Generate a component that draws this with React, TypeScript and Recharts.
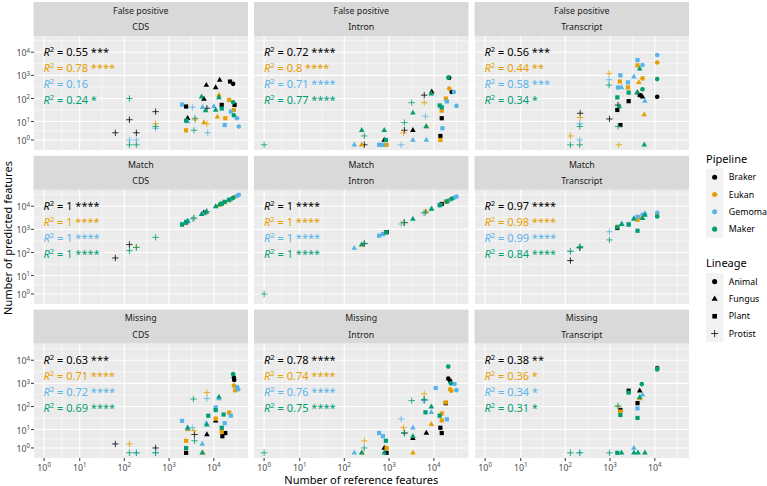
import React from 'react';
import { ScatterChart, Scatter, XAxis, YAxis, CartesianGrid } from 'recharts';

// pipelines (colour) and lineages (shape)
const PIPELINES = ['Braker', 'Eukan', 'Gemoma', 'Maker'];
const PIPELINE_CODES = ['B', 'E', 'G', 'M'];
const PIPELINE_COLORS = ['#000000', '#E69F00', '#56B4E9', '#009E73'];
const LINEAGES = ['Animal', 'Fungus', 'Plant', 'Protist'];
const LINEAGE_CODES = ['a', 'f', 'p', 't'];

const STATUSES = ['False positive', 'Match', 'Missing'];
const FEATURES = ['CDS', 'Intron', 'Transcript'];
const TICK_POWERS = [0, 1, 2, 3, 4];

// R² labels per panel, in pipeline order
const R2_FP_CDS = ['0.55 ***', '0.78 ****', '0.16', '0.24 *'];
const R2_FP_INTRON = ['0.72 ****', '0.8 ****', '0.71 ****', '0.77 ****'];
const R2_FP_TRANSCRIPT = ['0.56 ***', '0.44 **', '0.58 ***', '0.34 *'];
const R2_MATCH_CDS = ['1 ****', '1 ****', '1 ****', '1 ****'];
const R2_MATCH_INTRON = ['1 ****', '1 ****', '1 ****', '1 ****'];
const R2_MATCH_TRANSCRIPT = ['0.97 ****', '0.98 ****', '0.99 ****', '0.84 ****'];
const R2_MISS_CDS = ['0.63 ***', '0.71 ****', '0.72 ****', '0.69 ****'];
const R2_MISS_INTRON = ['0.78 ****', '0.74 ****', '0.76 ****', '0.75 ****'];
const R2_MISS_TRANSCRIPT = ['0.38 **', '0.36 *', '0.34 *', '0.31 *'];

// [pipeline+lineage code, reference features, predicted features]
type Pt = [string, number, number];

const FP_CDS: Pt[] = [
  ['Bt', 63, 3], ['Bt', 130, 12], ['Bt', 186, 3], ['Bt', 500, 27],
  ['Et', 500, 8], ['Gt', 130, 1], ['Gt', 186, 1], ['Gt', 500, 5],
  ['Mt', 130, 100], ['Mt', 130, 0], ['Mt', 186, 0], ['Mt', 500, 6],
  ['Gp', 1950, 55], ['Bp', 2400, 45], ['Gt', 3300, 42], ['Mf', 5300, 120],
  ['Bf', 6000, 95], ['Bf', 6800, 380], ['Gf', 5600, 42], ['Bt', 7000, 38],
  ['Bf', 11000, 300], ['Bf', 13500, 630], ['Ef', 13000, 140], ['Mf', 13000, 110],
  ['Bp', 23000, 540], ['Ba', 27000, 430], ['Ep', 22000, 87], ['Ma', 27000, 69],
  ['Bp', 29000, 53], ['Mf', 11000, 32], ['Bp', 15000, 53], ['Mp', 15000, 37],
  ['Ep', 28000, 32], ['Gp', 24000, 27], ['Ga', 33000, 14], ['Ga', 36000, 6],
  ['Ma', 28000, 19], ['Ep', 18000, 14], ['Gp', 17500, 7], ['Ef', 12000, 16],
  ['Bf', 2600, 14], ['Mp', 2400, 11], ['Gf', 2600, 10], ['Ep', 2400, 4],
  ['Mt', 3600, 4], ['Mt', 3800, 14], ['Et', 3800, 12], ['Gt', 7300, 3],
  ['Et', 7000, 8], ['Ef', 6000, 9], ['Gf', 10000, 45], ['Mf', 6500, 30],
];

const FP_INTRON: Pt[] = [
  ['Mt', 1, 0], ['Gf', 167, 0], ['Mf', 245, 4], ['Mt', 280, 2], ['Ef', 245, 0],
  ['Bt', 280, 0], ['Mf', 780, 4], ['Gp', 600, 0], ['Gp', 730, 0], ['Ep', 880, 0],
  ['Bf', 780, 1], ['Mp', 850, 1], ['Gt', 1860, 0], ['Et', 2100, 3], ['Mt', 2200, 9],
  ['Bt', 2200, 4], ['Bf', 3400, 4], ['Gf', 3400, 1], ['Mf', 3400, 24], ['Mt', 3200, 66],
  ['Et', 6100, 66], ['Bt', 6100, 140], ['Gt', 6500, 17], ['Mf', 6700, 6], ['Ef', 6900, 6],
  ['Bf', 9000, 195], ['Mf', 8800, 160], ['Gf', 6800, 1], ['Bp', 15000, 14], ['Gp', 15500, 5],
  ['Bp', 14000, 2], ['Ep', 14000, 1], ['Mp', 13500, 50], ['Mp', 15000, 42], ['Ep', 18500, 100],
  ['Gp', 19500, 75], ['Ep', 15000, 30], ['Ea', 22000, 270], ['Ga', 28000, 190], ['Ba', 25000, 190],
  ['Ma', 21000, 800], ['Ba', 22000, 780], ['Ga', 32000, 48],
];

const FP_TRANSCRIPT: Pt[] = [
  ['Et', 130, 2], ['Mt', 130, 0], ['Mt', 210, 0], ['Gt', 210, 1], ['Gt', 210, 8],
  ['Mt', 210, 6], ['Bt', 215, 23], ['Et', 215, 15], ['Bt', 970, 13], ['Et', 950, 1200],
  ['Gt', 950, 650], ['Mt', 950, 380], ['Et', 1560, 0], ['Bp', 1700, 7], ['Mt', 1500, 6],
  ['Bt', 1500, 52], ['Mf', 1600, 45], ['Bp', 1450, 32], ['Mp', 1450, 112], ['Gp', 1700, 1000],
  ['Ep', 1650, 540], ['Gp', 1500, 300], ['Gf', 1800, 300], ['Gp', 2500, 500], ['Ep', 2500, 300],
  ['Mp', 2600, 180], ['Bp', 2600, 77], ['Gf', 3400, 870], ['Gp', 4100, 4600], ['Ep', 4100, 2700],
  ['Mf', 4600, 1900], ['Ga', 5300, 2800], ['Ea', 5300, 740], ['Ef', 4400, 500], ['Ma', 5300, 250],
  ['Mf', 4000, 180], ['Bf', 4100, 180], ['Bf', 5300, 120], ['Bp', 4600, 140], ['Gf', 6000, 77],
  ['Ef', 5800, 20], ['Mf', 5800, 0], ['Ga', 11300, 7600], ['Ea', 11300, 3600], ['Ma', 11300, 690],
  ['Ba', 11300, 120],
];

const MATCH_CDS: Pt[] = [
  ['Bt', 63, 58], ['Bt', 130, 220], ['Mt', 130, 120], ['Et', 186, 170], ['Mt', 186, 165],
  ['Mt', 500, 450], ['Gp', 1950, 1700], ['Mp', 1950, 1600], ['Bp', 2400, 2000], ['Mp', 2400, 2100],
  ['Gf', 2600, 2200], ['Mf', 2600, 2300], ['Gt', 3300, 2800], ['Mt', 3600, 3100], ['Et', 3600, 3000],
  ['Mf', 5300, 4500], ['Bf', 6000, 5200], ['Gf', 5600, 4700], ['Mf', 6800, 5800], ['Ef', 6800, 5600],
  ['Mt', 7000, 5900], ['Gf', 11000, 9500], ['Mf', 11000, 9800], ['Ef', 13000, 11000], ['Mf', 13500, 12000],
  ['Mp', 15000, 13000], ['Gp', 15000, 12500], ['Ep', 17500, 15000], ['Mp', 17500, 15500], ['Ep', 22000, 18000],
  ['Mp', 22000, 19000], ['Gp', 24000, 20000], ['Ma', 27000, 23000], ['Ea', 29000, 25000], ['Ga', 33000, 28000],
  ['Ga', 36000, 31000],
];

const MATCH_INTRON: Pt[] = [
  ['Mt', 1, 1], ['Gf', 167, 155], ['Ef', 245, 210], ['Mf', 245, 220], ['Bt', 280, 240],
  ['Mt', 280, 250], ['Gp', 600, 530], ['Gp', 730, 620], ['Mp', 850, 740], ['Bp', 880, 760],
  ['Gt', 1860, 1700], ['Et', 2100, 1900], ['Mt', 2200, 2000], ['Bt', 2200, 1950], ['Mf', 3400, 2800],
  ['Gt', 6000, 5000], ['Et', 6100, 5300], ['Mt', 6500, 5500], ['Ef', 6700, 5800], ['Mf', 8800, 7600],
  ['Gf', 9000, 7700], ['Mp', 13500, 11000], ['Gp', 14000, 11500], ['Bp', 15000, 12500], ['Ep', 18500, 15500],
  ['Mp', 19500, 16000], ['Ga', 21000, 17000], ['Ea', 22000, 18500], ['Ma', 25000, 21000], ['Ga', 28000, 23000],
  ['Ga', 32000, 26000],
];

const MATCH_TRANSCRIPT: Pt[] = [
  ['Bt', 130, 45], ['Gt', 130, 115], ['Mt', 130, 112], ['Bt', 210, 160], ['Mt', 210, 165],
  ['Mt', 215, 180], ['Gt', 970, 790], ['Mt', 970, 350], ['Bp', 1450, 1150], ['Ep', 1500, 1300],
  ['Mp', 1450, 1230], ['Mf', 1800, 1650], ['Gf', 1850, 1700], ['Gp', 2600, 1700], ['Mp', 2600, 1600],
  ['Gf', 3400, 3000], ['Mf', 3400, 2800], ['Ep', 4100, 2600], ['Gp', 4100, 3500], ['Mp', 4100, 870],
  ['Ef', 4600, 3100], ['Ga', 5300, 4300], ['Mf', 5300, 3000], ['Gf', 6000, 4900], ['Mf', 6000, 4200],
  ['Ea', 11300, 4500], ['Ga', 11300, 5200], ['Ma', 11300, 3600],
];

const MISS_CDS: Pt[] = [
  ['Bt', 63, 2], ['Et', 130, 2], ['Mt', 130, 0], ['Mt', 186, 0], ['Gt', 186, 0],
  ['Bt', 500, 1], ['Gt', 500, 0], ['Mt', 500, 0], ['Gp', 1950, 24], ['Bp', 2400, 0],
  ['Ep', 2400, 3], ['Mp', 2400, 1], ['Ef', 2600, 10], ['Gf', 2600, 11], ['Mf', 2600, 12],
  ['Gt', 3300, 12], ['Bt', 3700, 6], ['Et', 3600, 9], ['Mt', 3700, 3], ['Mt', 3500, 210],
  ['Gf', 5500, 2], ['Mf', 5500, 0], ['Ef', 5700, 0], ['Gf', 6800, 19], ['Mf', 7000, 16],
  ['Et', 7000, 400], ['Gt', 7000, 220], ['Bf', 7000, 6], ['Mp', 7500, 40], ['Gp', 11000, 91],
  ['Mp', 11000, 70], ['Bf', 11000, 24], ['Ep', 11000, 30], ['Gf', 13000, 220], ['Mf', 13000, 260],
  ['Mp', 15000, 12], ['Ep', 15000, 8], ['Bp', 15500, 5], ['Mp', 16500, 45], ['Gp', 17500, 19],
  ['Bp', 18000, 7], ['Ep', 22000, 55], ['Gp', 24000, 40], ['Ma', 27000, 2500], ['Ba', 28000, 1800],
  ['Ba', 28500, 1400], ['Ea', 28000, 800], ['Ep', 30000, 500], ['Ga', 33000, 700], ['Ga', 35000, 550],
];

const MISS_INTRON: Pt[] = [
  ['Mt', 1, 0], ['Gf', 167, 0], ['Mf', 245, 0], ['Ef', 250, 0], ['Et', 280, 3],
  ['Mt', 280, 1], ['Gp', 600, 7], ['Gp', 730, 5], ['Mp', 850, 3], ['Bf', 780, 1],
  ['Ep', 880, 1], ['Bp', 880, 0], ['Mf', 780, 0], ['Gt', 1860, 29], ['Et', 2100, 12],
  ['Mt', 2200, 7], ['Bt', 2200, 7], ['Gf', 3400, 12], ['Bf', 3400, 4], ['Mf', 3400, 5],
  ['Ef', 3400, 0], ['Mt', 3200, 180], ['Et', 6100, 350], ['Gt', 6100, 180], ['Bt', 6100, 190],
  ['Mt', 6100, 200], ['Mp', 6500, 56], ['Mf', 8800, 98], ['Gf', 8800, 56], ['Ef', 8800, 17],
  ['Bf', 6800, 7], ['Gp', 11000, 630], ['Mp', 13500, 40], ['Ep', 15000, 50], ['Bp', 14000, 12],
  ['Bp', 15000, 7], ['Ep', 15000, 25], ['Gp', 19500, 28], ['Ep', 18500, 150], ['Bp', 18500, 140],
  ['Ba', 21000, 1600], ['Ba', 23000, 1300], ['Ea', 23000, 560], ['Ea', 24500, 480], ['Ma', 24000, 1000],
  ['Ma', 21000, 5300], ['Ga', 29000, 940], ['Ga', 32000, 510],
];

const MISS_TRANSCRIPT: Pt[] = [
  ['Mt', 130, 0], ['Mt', 210, 0], ['Gt', 210, 0], ['Mt', 970, 0], ['Mp', 1450, 0],
  ['Mf', 1800, 0], ['Gf', 3400, 1], ['Mf', 3400, 0], ['Mf', 4200, 0], ['Mf', 6000, 0],
  ['Et', 1500, 100], ['Mt', 1500, 107], ['Bp', 1700, 71], ['Ep', 1700, 60], ['Mp', 1700, 43],
  ['Bp', 2600, 480], ['Mp', 2600, 400], ['Bf', 4600, 480], ['Ef', 4600, 220], ['Mf', 4600, 250],
  ['Ma', 5100, 930], ['Bp', 4100, 140], ['Gp', 4100, 83], ['Mp', 4100, 32], ['Gf', 5300, 320],
  ['Ba', 11300, 4600], ['Ga', 11300, 4300], ['Ma', 11300, 4000],
];

const PANEL_POINTS = [
  [FP_CDS, FP_INTRON, FP_TRANSCRIPT],
  [MATCH_CDS, MATCH_INTRON, MATCH_TRANSCRIPT],
  [MISS_CDS, MISS_INTRON, MISS_TRANSCRIPT],
];
const PANEL_R2 = [
  [R2_FP_CDS, R2_FP_INTRON, R2_FP_TRANSCRIPT],
  [R2_MATCH_CDS, R2_MATCH_INTRON, R2_MATCH_TRANSCRIPT],
  [R2_MISS_CDS, R2_MISS_INTRON, R2_MISS_TRANSCRIPT],
];

// pseudo-log (asinh) transform, like scales::pseudo_log_trans(base = 10)
const ps = (v: number) => Math.asinh(v / 2) / Math.LN10;
const inv = (t: number) => 2 * Math.sinh(t * Math.LN10);

const MAJOR = TICK_POWERS.map((k) => ps(10 ** k));
const MINOR = [...MAJOR.slice(1).map((b, i) => (b + MAJOR[i]) / 2), MAJOR[4] + 0.5];
const X_DOMAIN = [-0.017, 4.774];
const Y_DOMAIN = [-0.224, 4.7];

const FONT = '"Noto Sans", "Open Sans", sans-serif';
const COL_X = [33.5, 254, 474.5];
const ROW_Y = [2, 155.8, 309.6];
const PANEL_W = 214.5;
const PANEL_H = 114;
const STRIP_H = 34;
const Y_AXIS_W = 30;
const X_AXIS_H = 20;

function Mark({ cx, cy, l, color, s = 1 }: any) {
  if (cx == null || cy == null) return null;
  if (l === 'a') return <circle cx={cx} cy={cy} r={2.3 * s} fill={color} />;
  if (l === 'f')
    return (
      <polygon
        points={`${cx},${cy - 3.2 * s} ${cx + 2.8 * s},${cy + 1.7 * s} ${cx - 2.8 * s},${cy + 1.7 * s}`}
        fill={color}
      />
    );
  if (l === 'p') return <rect x={cx - 2.1 * s} y={cy - 2.1 * s} width={4.2 * s} height={4.2 * s} fill={color} />;
  return (
    <path
      d={`M${cx - 3.2 * s},${cy}H${cx + 3.2 * s}M${cx},${cy - 3.2 * s}V${cy + 3.2 * s}`}
      stroke={color}
      strokeWidth={0.8}
    />
  );
}

function XTick({ x, y, payload }: any) {
  const k = Math.round(Math.log10(inv(payload.value)));
  return (
    <text x={x} y={y + 7.8} textAnchor="middle" fontSize={8.8} fill="#4D4D4D" fontFamily={FONT}>
      10<tspan dy={-3.5} fontSize={6.2}>{k}</tspan>
    </text>
  );
}

function YTick({ x, y, payload }: any) {
  const k = Math.round(Math.log10(inv(payload.value)));
  return (
    <text x={x} y={y + 4} textAnchor="end" fontSize={8.8} fill="#4D4D4D" fontFamily={FONT}>
      10<tspan dy={-3.5} fontSize={6.2}>{k}</tspan>
    </text>
  );
}

function Panel({ row, col }: { row: number; col: number }) {
  const left = col === 0;
  const bottom = row === 2;
  const w = PANEL_W + (left ? Y_AXIS_W : 0);
  const h = PANEL_H + (bottom ? X_AXIS_H : 0);
  const pts = PANEL_POINTS[row][col];
  const series = PIPELINE_CODES.map((code) =>
    pts.filter((p) => p[0][0] === code).map(([c, x, y]) => ({ x: ps(x), y: ps(y), l: c[1] }))
  );
  return (
    <div style={{ position: 'absolute', left: COL_X[col] - (left ? Y_AXIS_W : 0), top: ROW_Y[row] + STRIP_H }}>
      <ScatterChart width={w} height={h} margin={{ top: 0, right: 0, bottom: 0, left: 0 }}>
        <CartesianGrid
          verticalValues={MINOR}
          horizontalValues={MINOR}
          stroke="#FFFFFF"
          strokeWidth={0.55}
          fill="#EBEBEB"
          fillOpacity={1}
        />
        <CartesianGrid verticalValues={MAJOR} horizontalValues={MAJOR} stroke="#FFFFFF" strokeWidth={1.1} />
        <XAxis
          type="number"
          dataKey="x"
          domain={X_DOMAIN}
          allowDataOverflow
          ticks={MAJOR}
          interval={0}
          hide={!bottom}
          height={X_AXIS_H}
          axisLine={false}
          tickLine={{ stroke: '#333333' }}
          tickSize={3}
          tickMargin={2}
          tick={<XTick />}
        />
        <YAxis
          type="number"
          dataKey="y"
          domain={Y_DOMAIN}
          allowDataOverflow
          ticks={MAJOR}
          interval={0}
          hide={!left}
          width={Y_AXIS_W}
          axisLine={false}
          tickLine={{ stroke: '#333333' }}
          tickSize={3}
          tickMargin={1}
          tick={<YTick />}
        />
        {series.map((data, i) => (
          <Scatter
            key={PIPELINES[i]}
            name={PIPELINES[i]}
            data={data}
            isAnimationActive={false}
            shape={(p: any) => <Mark cx={p.cx} cy={p.cy} l={p.payload.l} color={PIPELINE_COLORS[i]} />}
          />
        ))}
      </ScatterChart>
    </div>
  );
}

function Legend() {
  const keyX = 706;
  const key = 17.3;
  const block = (title: string, titleY: number, top: number, labels: string[], draw: (i: number, cx: number, cy: number) => any) => (
    <g>
      <text x={keyX} y={titleY + 4} fontSize={11} fill="#000000">{title}</text>
      {labels.map((lab, i) => {
        const cy = top + key * i + key / 2;
        return (
          <g key={lab}>
            <rect x={keyX} y={top + key * i} width={key} height={key} fill="#F2F2F2" />
            {draw(i, keyX + key / 2, cy)}
            <text x={keyX + key + 5.5} y={cy + 3.1} fontSize={8.8} fill="#000000">{lab}</text>
          </g>
        );
      })}
    </g>
  );
  return (
    <>
      {block('Pipeline', 159, 168.6, PIPELINES, (i, cx, cy) => (
        <Mark cx={cx} cy={cy} l="a" color={PIPELINE_COLORS[i]} s={1.1} />
      ))}
      {block('Lineage', 263, 273, LINEAGES, (i, cx, cy) => (
        <Mark cx={cx} cy={cy} l={LINEAGE_CODES[i]} color="#000000" s={1.1} />
      ))}
    </>
  );
}

export default function App() {
  const cells: { row: number; col: number }[] = [];
  STATUSES.forEach((_, row) => FEATURES.forEach((__, col) => cells.push({ row, col })));
  return (
    <div style={{ position: 'absolute', left: 0, top: 0, width: 767, height: 486, background: '#FFFFFF', fontFamily: FONT }}>
      <svg width={767} height={486} style={{ position: 'absolute', left: 0, top: 0 }} fontFamily={FONT}>
        {cells.map(({ row, col }) => (
          <g key={`s${row}${col}`}>
            <rect x={COL_X[col]} y={ROW_Y[row]} width={PANEL_W} height={STRIP_H} fill="#D9D9D9" />
            <text x={COL_X[col] + PANEL_W / 2} y={ROW_Y[row] + 11.8} textAnchor="middle" fontSize={8.8} fill="#1A1A1A">
              {STATUSES[row]}
            </text>
            <text x={COL_X[col] + PANEL_W / 2} y={ROW_Y[row] + 28.4} textAnchor="middle" fontSize={8.8} fill="#1A1A1A">
              {FEATURES[col]}
            </text>
          </g>
        ))}
      </svg>
      {cells.map(({ row, col }) => (
        <Panel key={`p${row}${col}`} row={row} col={col} />
      ))}
      <svg width={767} height={486} style={{ position: 'absolute', left: 0, top: 0, pointerEvents: 'none' }} fontFamily={FONT}>
        {cells.map(({ row, col }) =>
          PANEL_R2[row][col].map((lab, i) => (
            <text
              key={`r${row}${col}${i}`}
              x={COL_X[col] + 9.9}
              y={ROW_Y[row] + STRIP_H + 16.3 + 16 * i + 3.9}
              fontSize={11}
              fill={PIPELINE_COLORS[i]}
              style={{ whiteSpace: 'pre' }}
            >
              <tspan fontStyle="italic">R</tspan>
              <tspan dy={-4.2} fontSize={7.8}>2</tspan>
              <tspan dy={4.2}>{` = ${lab}`}</tspan>
            </text>
          ))
        )}
        <text x={361.3} y={484.3} textAnchor="middle" fontSize={11} fill="#000000">
          Number of reference features
        </text>
        <text x={0} y={0} transform="translate(11.5,238) rotate(-90)" textAnchor="middle" fontSize={11} fill="#000000">
          Number of predicted features
        </text>
        <Legend />
      </svg>
    </div>
  );
}
